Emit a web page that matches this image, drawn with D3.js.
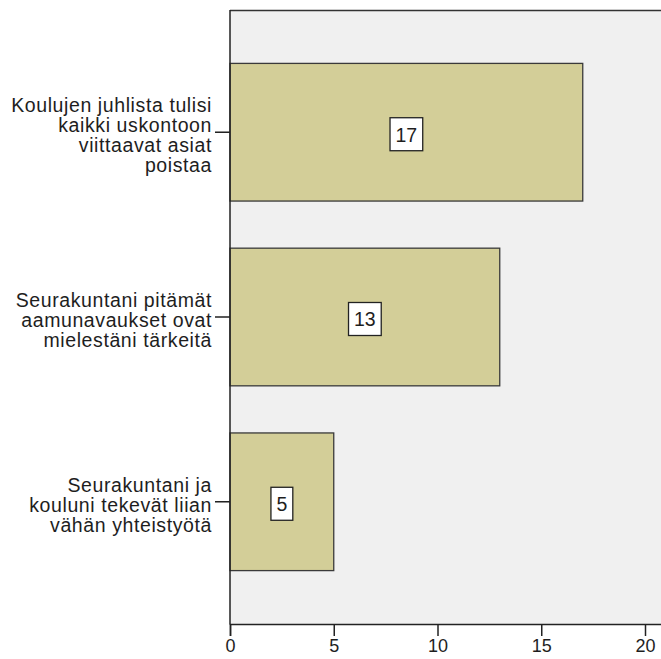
<!DOCTYPE html>
<html>
<head>
<meta charset="utf-8">
<script src="https://cdn.jsdelivr.net/npm/d3@7"></script>
<style>
  html, body { margin: 0; padding: 0; background: #ffffff; }
  svg { display: block; }
  text { font-family: "Liberation Sans", Arial, sans-serif; fill: #1e1e1e; }
</style>
</head>
<body>
<svg id="chart" width="661" height="659"></svg>
<script>
// ---- data ----
const categories = [
  ["Koulujen juhlista tulisi", "kaikki uskontoon", "viittaavat asiat", "poistaa"],
  ["Seurakuntani pitämät", "aamunavaukset ovat", "mielestäni tärkeitä"],
  ["Seurakuntani ja", "kouluni tekevät liian", "vähän yhteistyötä"]
];
const values = [17, 13, 5];
const xTicks = [0, 5, 10, 15, 20];

// ---- layout ----
const plotLeft = 230, plotTop = 10, plotBottom = 624;
const pxPerUnit = 20.75;
const xMax = 21.5;
const fontSize = 19.5;

const svg = d3.select("#chart");

const x = d3.scaleLinear().domain([0, xMax]).range([plotLeft, plotLeft + xMax * pxPerUnit]);
const y = d3.scaleBand().domain(d3.range(categories.length)).range([plotTop, plotBottom])
  .paddingInner(0.255).paddingOuter(0.289);

// plot background
svg.append("rect")
  .attr("x", plotLeft).attr("y", plotTop)
  .attr("width", x.range()[1] - plotLeft).attr("height", plotBottom - plotTop)
  .attr("fill", "#f0f0f0");

// top border
svg.append("line")
  .attr("x1", plotLeft).attr("x2", x.range()[1])
  .attr("y1", plotTop + 0.5).attr("y2", plotTop + 0.5)
  .attr("stroke", "#333").attr("stroke-width", 1.3);

// bars
svg.selectAll("rect.bar").data(values).join("rect")
  .attr("class", "bar")
  .attr("x", x(0))
  .attr("y", (d, i) => y(i))
  .attr("width", d => x(d) - x(0))
  .attr("height", y.bandwidth())
  .attr("fill", "#d3ce98")
  .attr("stroke", "#3a3a3a")
  .attr("stroke-width", 1.3);

// value labels
const lab = svg.selectAll("g.vl").data(values).join("g").attr("class", "vl");
lab.each(function(d, i) {
  const g = d3.select(this);
  const cx = (x(0) + x(d)) / 2;
  const cy = y(i) + y.bandwidth() / 2 + 2;
  const t = g.append("text")
    .attr("x", cx).attr("y", cy)
    .attr("text-anchor", "middle")
    .attr("dy", "0.38em")
    .style("font-size", fontSize + "px")
    .text(d);
  const w = t.node().getComputedTextLength();
  g.insert("rect", "text")
    .attr("x", cx - w / 2 - 5.5).attr("y", cy - 16.5)
    .attr("width", w + 11).attr("height", 33)
    .attr("fill", "#ffffff")
    .attr("stroke", "#222").attr("stroke-width", 1.3);
});

// y axis
const yAxis = svg.append("g");
yAxis.append("line")
  .attr("x1", plotLeft).attr("x2", plotLeft)
  .attr("y1", plotTop).attr("y2", plotBottom + 0.5)
  .attr("stroke", "#222").attr("stroke-width", 1.5);
const lineH = 20;
categories.forEach((lines, i) => {
  const cy = y(i) + y.bandwidth() / 2;
  yAxis.append("line")
    .attr("x1", plotLeft - 15).attr("x2", plotLeft)
    .attr("y1", cy).attr("y2", cy)
    .attr("stroke", "#222").attr("stroke-width", 1.5);
  const t = yAxis.append("text")
    .attr("text-anchor", "end")
    .style("font-size", fontSize + "px")
    .style("letter-spacing", "0.6px");
  const n = lines.length;
  lines.forEach((ln, k) => {
    t.append("tspan")
      .attr("x", plotLeft - 18)
      .attr("y", cy + 3 + (k - (n - 1) / 2) * lineH)
      .attr("dy", "0.35em")
      .text(ln);
  });
});

// x axis
const xAxisG = svg.append("g").attr("transform", `translate(0,${plotBottom})`);
xAxisG.call(d3.axisBottom(x).tickValues(xTicks).tickSize(12).tickPadding(3));
xAxisG.select(".domain").attr("stroke", "#222").attr("stroke-width", 1.5);
xAxisG.selectAll(".tick line").attr("stroke", "#222").attr("stroke-width", 1.5);
xAxisG.selectAll(".tick text")
  .style("font-size", "18px")
  .style("font-family", "'Liberation Sans', Arial, sans-serif")
  .attr("fill", "#1e1e1e");
</script>
</body>
</html>
